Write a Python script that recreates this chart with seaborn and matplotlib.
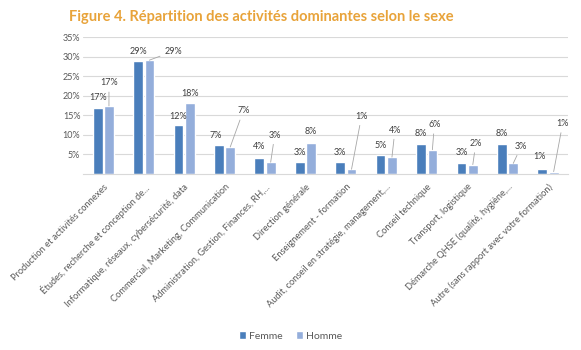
import matplotlib
matplotlib.use("Agg")
import matplotlib.pyplot as plt
import seaborn as sns
import pandas as pd

categories = [
    "Production et activités connexes",
    "Études, recherche et conception de...",
    "Informatique, réseaux, cybersécurité, data",
    "Commercial, Marketing, Communication",
    "Administration, Gestion, Finances, RH,...",
    "Direction générale",
    "Enseignement - formation",
    "Audit, conseil en stratégie, management,...",
    "Conseil technique",
    "Transport, logistique",
    "Démarche QHSE (qualité, hygiène,...",
    "Autre (sans rapport avec votre formation)",
]
femme = [16.8, 29.0, 12.4, 7.4, 4.2, 3.0, 3.0, 4.8, 7.6, 2.7, 7.7, 1.2]
homme = [17.4, 29.1, 18.1, 6.9, 3.0, 8.0, 1.2, 4.3, 6.2, 2.4, 2.7, 0.6]
series = ["Femme", "Homme"]
yticks = [5, 10, 15, 20, 25, 30, 35]

# label offsets in pixels (dx, dy) relative to bar top centre
off_f = [(0, -11), (0, -9), (0, -9), (-3, -10), (0, -11), (0, -10), (0, -10),
         (0, -10), (0, -11), (0, -11), (0, -10), (-3, -13)]
off_h = [(0, -23), (24, -9), (0, -10), (13, -36), (4, -27), (0, -11), (10, -53),
         (3, -27), (2, -25), (3, -21), (8, -17), (9, -48)]

df = pd.DataFrame({
    "cat": categories * 2,
    "val": femme + homme,
    "sexe": [series[0]] * len(categories) + [series[1]] * len(categories),
})

sns.set_style("white")
plt.rcParams["font.family"] = ["Lato", "DejaVu Sans"]

fig = plt.figure(figsize=(5.81, 3.5), dpi=100)
ax = fig.add_axes([0.143, 0.503, 0.835, 0.391])

colors = {"Femme": "#4a7ebb", "Homme": "#94aedb"}
sns.barplot(data=df, x="cat", y="val", hue="sexe", palette=colors,
            width=0.56, gap=0.14, ax=ax, legend=True, saturation=1)

ax.set_ylim(0, 35)
ax.set_yticks(yticks)
ax.set_yticklabels([f"{t}%" for t in yticks], fontsize=6.5, color="#595959")
ax.yaxis.grid(True, color="#d9d9d9", linewidth=0.8)
ax.set_axisbelow(True)
for s in ["top", "right", "left"]:
    ax.spines[s].set_visible(False)
ax.spines["bottom"].set_color("#d9d9d9")
ax.tick_params(axis="both", length=0, pad=2)
ax.set_xlabel("")
ax.set_ylabel("")
ax.set_xlim(-0.5, len(categories) - 0.5)
ax.set_xticks(range(len(categories)))
ax.set_xticklabels(categories, rotation=45, ha="right", rotation_mode="anchor",
                   fontsize=6.7, color="#595959")
ax.tick_params(axis="x", pad=6)

for cont, offs in zip(ax.containers, [off_f, off_h]):
    for bar, (dx, dy) in zip(cont, offs):
        v = bar.get_height()
        xc = bar.get_x() + bar.get_width() / 2
        lead = abs(dy) > 14 or abs(dx) > 5
        ax.annotate(f"{v:.0f}%", xy=(xc, v), xytext=(dx, -dy),
                    textcoords="offset pixels", ha="center", va="center",
                    fontsize=6.5, color="#404040",
                    arrowprops=dict(arrowstyle="-", color="#a6a6a6", lw=0.6,
                                    shrinkA=1, shrinkB=0) if lead else None)

leg = ax.legend(loc="center", ncol=2, frameon=False, fontsize=7.5,
                handlelength=0.7, handleheight=0.7,
                handletextpad=0.3, columnspacing=1.2, labelcolor="#595959")
leg.set_bbox_to_anchor((0.5, 0.04), transform=fig.transFigure)

fig.text(0.449, 0.951, "Figure 4. Répartition des activités dominantes selon le sexe",
         ha="center", va="center", fontsize=10.5, fontweight="bold", color="#e8a33a")

fig.savefig("out.png", dpi=100)
